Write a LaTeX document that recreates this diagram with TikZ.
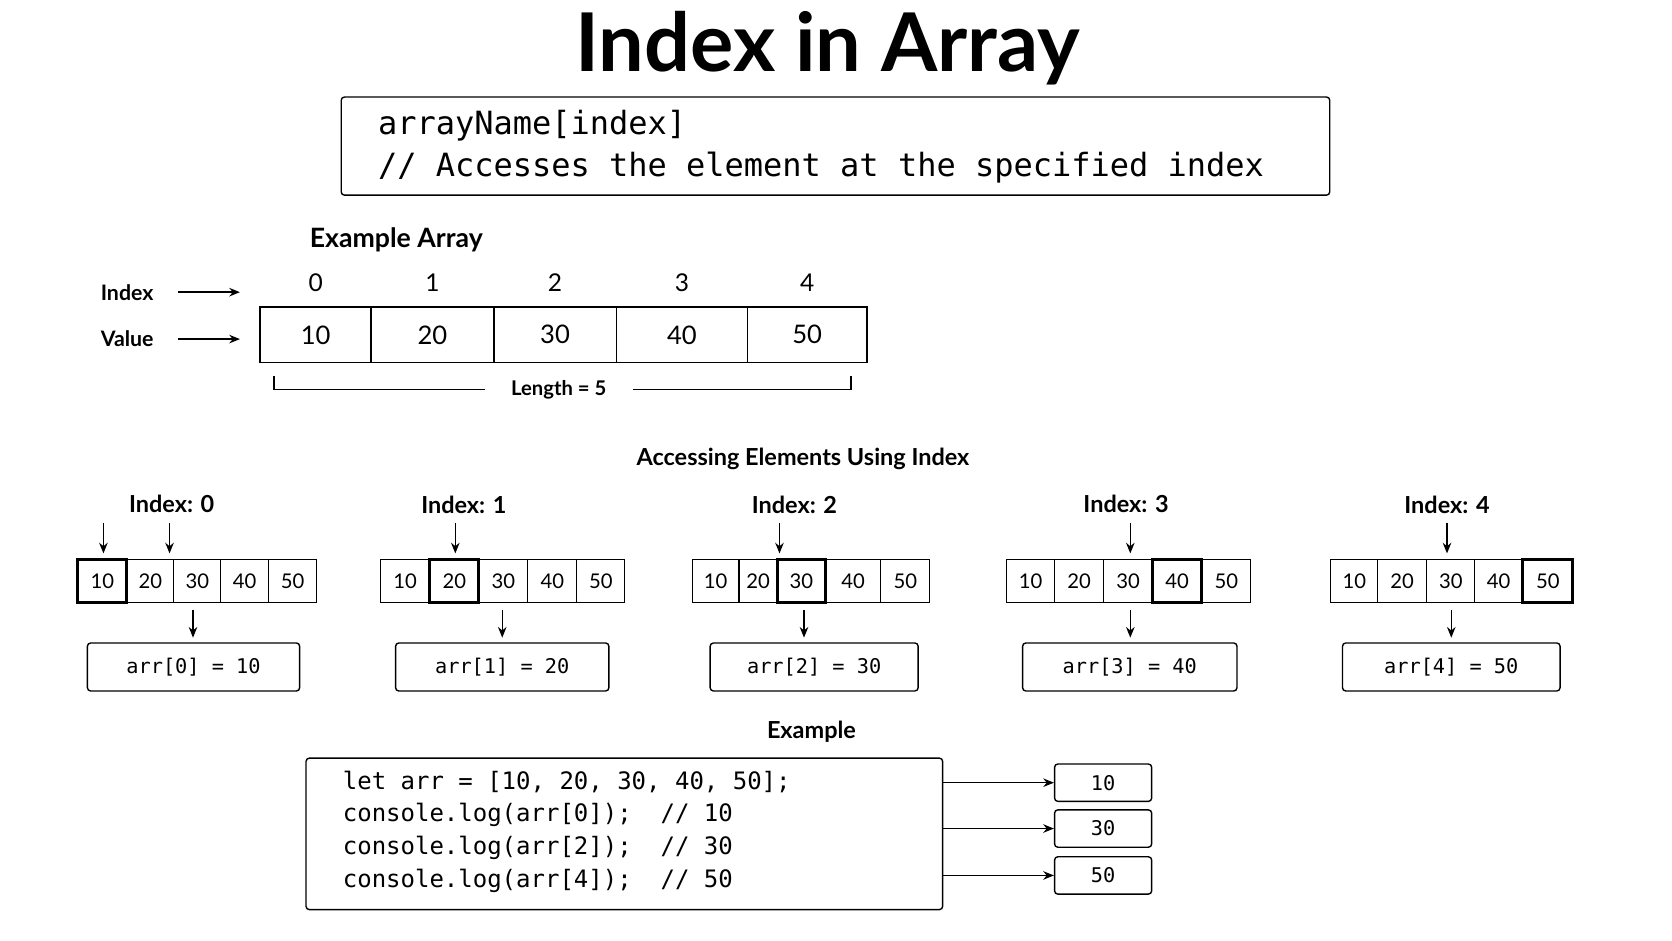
\documentclass[tikz,border=0pt]{standalone}
\usepackage{fontspec}
\setmainfont{Lato}
\setmonofont{DejaVu Sans Mono}
\usetikzlibrary{arrows.meta}
\begin{document}
\begin{tikzpicture}[x=1pt,y=-1pt,
  arr/.style={-{Stealth[length=10pt,width=8pt]},line width=1.4pt},
  box/.style={draw,rounded corners=3pt,line width=1.3pt},
  cell/.style={draw,line width=1pt,inner sep=0pt},
  hcell/.style={draw,line width=2.8pt,inner sep=0pt},
  sm/.style={font=\fontsize{19}{22}\selectfont},
  lbl/.style={font=\fontsize{22}{26}\selectfont\bfseries}]
\useasboundingbox (0,0) rectangle (1568,882);
\fill[white] (0,0) rectangle (1568,882);
\node[font=\fontsize{76}{80}\selectfont\bfseries] (title) at (776,45) {Index in Array};
\node[box,minimum width=927pt,minimum height=92pt] (syn) at (783.5,137) {};
\node[anchor=west,font=\fontsize{30}{32}\ttfamily] (s1) at (351,118) {arrayName[index]};
\node[anchor=west,font=\fontsize{30}{32}\ttfamily] (s2) at (351,157) {// Accesses the element at the specified index};
\node[anchor=west,font=\fontsize{25}{30}\selectfont\bfseries] (ex) at (287,225) {Example Array};
\node[anchor=west,font=\fontsize{20}{24}\selectfont\bfseries] (il) at (91,274) {Index};
\node[anchor=west,font=\fontsize{20}{24}\selectfont\bfseries] (vl) at (91,318) {Value};
\coordinate (ia) at (225,274); \coordinate (va) at (225,318);
\draw[arr] (167,274) -- (ia);
\draw[arr] (167,318) -- (va);
\foreach \a/\b/\i/\v in {244/348/0/10,348/463/1/20,463/578/2/30,578/701/3/40,701/813/4/50}{
  \node[cell,line width=1.5pt,minimum width={\b-\a},minimum height=52pt,font=\fontsize{24}{28}\selectfont] (c\i) at ({(\a+\b)/2},314) {\v};
  \node[font=\fontsize{23}{28}\selectfont] (n\i) at ({(\a+\b)/2},265) {\i};
}
\node[font=\fontsize{19}{22}\selectfont\bfseries] (len) at (524,366) {Length = 5};
\draw[line width=1.2pt] (257,353) -- (257,365) -- (455,365);
\draw[line width=1.2pt] (594,365) -- (798,365) -- (798,353);
\node[font=\fontsize{22}{26}\selectfont\bfseries] (acc) at (753,430) {Accessing Elements Using Index};
% groups
\foreach \g/\cx/\pa/\pb/\pc/\pd/\pe/\pf/\ax/\bx/\rl/\rr/\res in {
  0/161/73/119/163/207/252/297/97/181/82/281/{arr[0] = 10},
  1/435/357/403/449/495/541/586/427/471/371/571/{arr[1] = 20},
  2/745/649/693/729/774/826/872/731/754/666/861/{arr[2] = 30},
  3/1056/944/989/1035/1081/1127/1173/1060/1060/959/1160/{arr[3] = 40},
  4/1357/1248/1292/1338/1383/1428/1475/1357/1361/1259/1463/{arr[4] = 50}}{
  \node[lbl] (L\g) at (\cx,473) {Index: \g};
  \foreach \a/\b/\k/\v in {\pa/\pb/0/10,\pb/\pc/1/20,\pc/\pd/2/30,\pd/\pe/3/40,\pe/\pf/4/50}{
    \ifnum\k=\g
      \node[hcell,minimum width={\b-\a},minimum height=40pt,sm] (g\g c\k) at ({(\a+\b)/2},545) {\v};
    \else
      \node[cell,minimum width={\b-\a},minimum height=40pt,sm] (g\g c\k) at ({(\a+\b)/2},545) {\v};
    \fi
  }
  \node[box,minimum width={\rr-\rl},minimum height=45pt,font=\fontsize{19}{22}\ttfamily] (r\g) at ({(\rl+\rr)/2},625.5) {\res};
  \coordinate (t\g) at (\ax,490); \coordinate (h\g) at (\ax,519);
  \draw[arr] (t\g) -- (h\g);
  \coordinate (u\g) at (\bx,572); \coordinate (w\g) at (\bx,598);
  \draw[arr] (u\g) -- (w\g);
}
\coordinate (t5) at (159,490); \coordinate (h5) at (159,519);
\draw[arr] (t5) -- (h5);
% example
\node[font=\fontsize{22}{26}\selectfont\bfseries] (exl) at (761,686) {Example};
\node[box,minimum width=597pt,minimum height=142pt] (code) at (585.5,782) {};
\foreach \y/\t/\n in {733/{let arr = [10, 20, 30, 40, 50];}/1,764/{console.log(arr[0]);\ \ // 10}/2,795/{console.log(arr[2]);\ \ // 30}/3,826/{console.log(arr[4]);\ \ // 50}/4}
  \node[anchor=west,font=\fontsize{22.5}{26}\ttfamily] (cl\n) at (318,\y) {\t};
\foreach \y/\v in {734/10,777/30,821/50}{
  \node[box,minimum width=91pt,minimum height=35pt,font=\fontsize{19}{22}\ttfamily] (o\v) at (1034.5,\y) {\v};
  \coordinate (s\v) at (884,\y);
  \draw[arr] (s\v) -- (o\v.west);
}
\end{tikzpicture}
\end{document}
